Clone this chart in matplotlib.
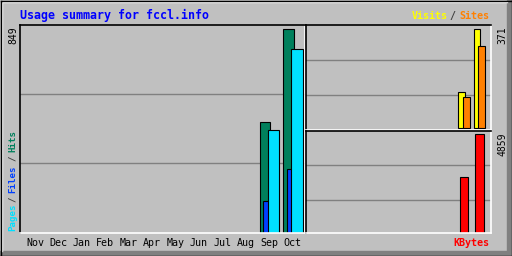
import matplotlib.pyplot as plt
from matplotlib.patches import Rectangle
from matplotlib.lines import Line2D

# Usage data (Nov .. Oct), only Sep and Oct have traffic
months = ['Nov', 'Dec', 'Jan', 'Feb', 'Mar', 'Apr', 'May', 'Jun', 'Jul', 'Aug', 'Sep', 'Oct']
hits = [0, 0, 0, 0, 0, 0, 0, 0, 0, 0, 460, 849]
files = [0, 0, 0, 0, 0, 0, 0, 0, 0, 0, 130, 263]
pages = [0, 0, 0, 0, 0, 0, 0, 0, 0, 0, 426, 765]
visits = [0, 0, 0, 0, 0, 0, 0, 0, 0, 0, 134, 371]
sites = [0, 0, 0, 0, 0, 0, 0, 0, 0, 0, 117, 308]
kbytes = [0, 0, 0, 0, 0, 0, 0, 0, 0, 0, 2735, 4859]

W, H = 512, 256
BG = '#c0c0c0'
GRID = '#808080'
fig = plt.figure(figsize=(W / 100, H / 100), dpi=100)
fig.patch.set_facecolor(BG)


def px_axes(x0, y0, x1, y1):
    # axes from pixel box (top-left origin)
    ax = fig.add_axes([x0 / W, 1 - y1 / H, (x1 - x0) / W, (y1 - y0) / H])
    ax.set_facecolor(BG)
    for s in ['top', 'left']:
        ax.spines[s].set_color('black')
    for s in ['bottom', 'right']:
        ax.spines[s].set_color('white')
    for s in ax.spines.values():
        s.set_linewidth(1.2)
    ax.set_xticks([])
    ax.set_yticks([])
    return ax


def fline(x0, y0, x1, y1, color, lw=1):
    fig.add_artist(Line2D([x0 / W, x1 / W], [1 - y0 / H, 1 - y1 / H],
                          color=color, lw=lw, transform=fig.transFigure))


def bars(ax, vals, off, width, color):
    # skip empty months so no flat outlines are drawn
    xs = [i + off for i, v in enumerate(vals) if v > 0]
    hs = [v for v in vals if v > 0]
    ax.bar(xs, hs, width=width, color=color, edgecolor='black', linewidth=0.8, align='edge')


# outer frame: shadow on right/bottom, highlight on top/left
fig.add_artist(Rectangle((507 / W, 0), 5 / W, 1, color=GRID, transform=fig.transFigure))
fig.add_artist(Rectangle((0, 0), 1, 5 / H, color=GRID, transform=fig.transFigure))
fline(1.5, 1.5, 507, 1.5, 'white', 1)
fline(1.5, 1.5, 1.5, 251, 'white', 1)
fline(0.5, 0.5, 511.5, 0.5, 'black', 1)
fline(0.5, 0.5, 0.5, 255.5, 'black', 1)
fline(511.5, 0, 511.5, 256, 'black', 1)
fline(0, 255.5, 512, 255.5, 'black', 1)

# main panel: hits / files / pages
ax = px_axes(20, 25, 304.5, 232.5)
top = 849 * 207 / 203
ax.set_ylim(0, top)
ax.set_xlim(-0.64, 11.52)
for f in (1 / 3, 2 / 3):
    ax.axhline(top * f, color=GRID, lw=1, zorder=0)
bars(ax, hits, -0.394, 0.46, '#00805c')
bars(ax, files, -0.236, 0.35, '#0040ff')
bars(ax, pages, -0.05, 0.49, '#00e0ff')

# top right panel: visits / sites
ax2 = px_axes(305.5, 25, 490.5, 129.5)
ax2.set_ylim(-5.7, 387)
ax2.set_xlim(-0.45, 11.72)
for yp in (60.3, 95.3):
    ax2.axhline(-5.7 + (129.5 - yp) / 104.5 * 392.7, color=GRID, lw=1, zorder=0)
bars(ax2, visits, -0.39, 0.44, '#ffff00')
bars(ax2, sites, -0.1, 0.48, '#ff8000')

# bottom right panel: kbytes
ax3 = px_axes(305.5, 131, 490.5, 232.5)
ktop = 4859 + 3.3 * 4859 / 97.7
ax3.set_ylim(0, ktop)
ax3.set_xlim(-0.45, 11.72)
for yp in (165, 200):
    ax3.axhline((232.5 - yp) / 101.5 * ktop, color=GRID, lw=1, zorder=0)
bars(ax3, kbytes, -0.3, 0.57, '#ff0000')

mono = 'DejaVu Sans Mono'
fs = 7.2

# month labels under main panel
for i, m in enumerate(months):
    ax.text(i, -0.052, m, transform=ax.get_xaxis_transform(), ha='center', va='center',
            fontsize=fs, family=mono, color='black')

fig.text(20 / W, 1 - 15 / H, 'Usage summary for fccl.info', color='#0000ff',
         fontsize=8.4, family=mono, weight='bold', va='center', ha='left')

# Visits / Sites legend at top right
fig.text(411.5 / W, 1 - 16 / H, 'Visits', color='#ffff00', fontsize=fs, family=mono,
         weight='bold', va='center', ha='left')
fig.text(452.7 / W, 1 - 16 / H, '/', color='#404040', fontsize=fs, family=mono,
         weight='bold', va='center', ha='center')
fig.text(459.5 / W, 1 - 16 / H, 'Sites', color='#ff8000', fontsize=fs, family=mono,
         weight='bold', va='center', ha='left')

# KBytes label at bottom right
fig.text(489 / W, 1 - 243 / H, 'KBytes', color='#ff0000', fontsize=fs, family=mono,
         weight='bold', va='center', ha='right')

# left vertical legend: Pages / Files / Hits
vfs = 6.6
fig.text(13 / W, 1 - 231 / H, 'Pages', color='#00e0ff', fontsize=vfs, family=mono,
         weight='bold', rotation=90, va='bottom', ha='center')
fig.text(13 / W, 1 - 199 / H, '/', color='#404040', fontsize=vfs, family=mono,
         weight='bold', rotation=90, va='center', ha='center')
fig.text(13 / W, 1 - 193 / H, 'Files', color='#0040ff', fontsize=vfs, family=mono,
         weight='bold', rotation=90, va='bottom', ha='center')
fig.text(13 / W, 1 - 158 / H, '/', color='#404040', fontsize=vfs, family=mono,
         weight='bold', rotation=90, va='center', ha='center')
fig.text(13 / W, 1 - 152 / H, 'Hits', color='#00805c', fontsize=vfs, family=mono,
         weight='bold', rotation=90, va='bottom', ha='center')

# max values rotated
fig.text(13 / W, 1 - 26 / H, str(max(hits)), fontsize=7, family=mono, rotation=90,
         va='top', ha='center')
fig.text(502 / W, 1 - 26 / H, str(max(visits)), fontsize=7, family=mono, rotation=90,
         va='top', ha='center')
fig.text(502 / W, 1 - 132 / H, str(max(kbytes)), fontsize=7, family=mono, rotation=90,
         va='top', ha='center')

fig.savefig('out.png', dpi=100, facecolor=BG)
